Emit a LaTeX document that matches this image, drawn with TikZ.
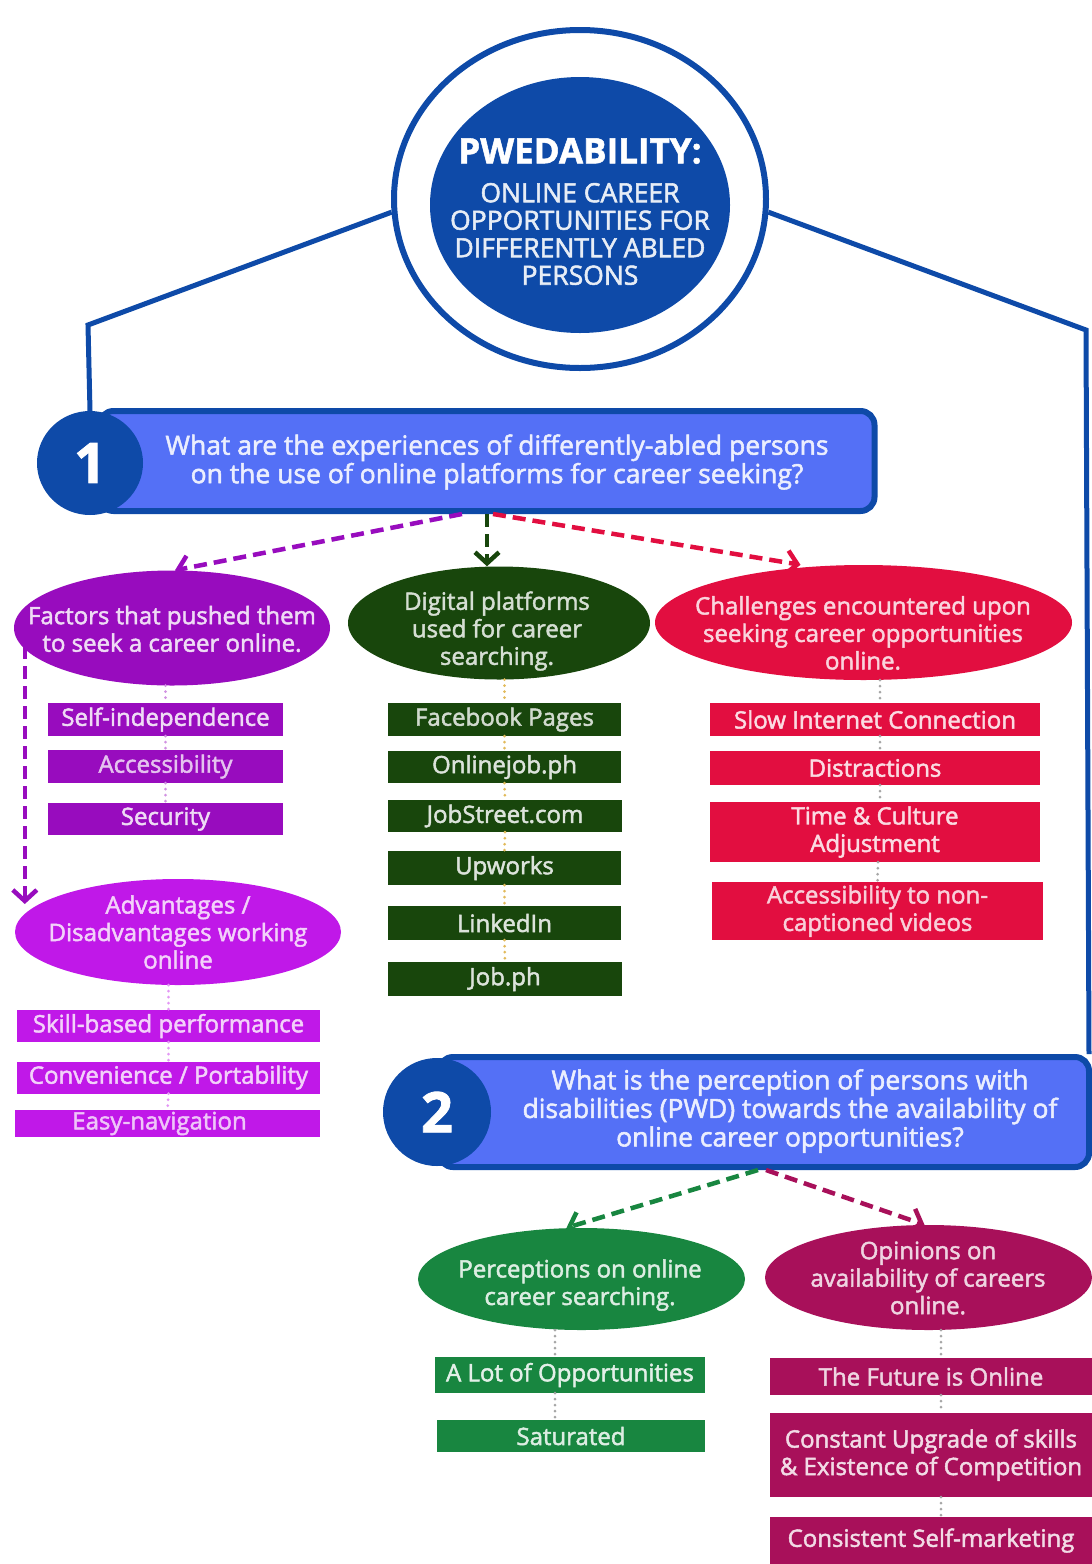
\documentclass[tikz,border=0pt]{standalone}
\usepackage{fontspec}
\setmainfont{Open Sans}[FakeBold=2]
\newfontfamily\titlefont{Open Sans Bold}[FakeBold=1.5]
\usetikzlibrary{shapes.geometric,arrows.meta,calc}
\definecolor{dblue}{RGB}{14,74,168}
\definecolor{mblue}{RGB}{84,112,246}
\definecolor{purp}{RGB}{152,12,190}
\definecolor{purpB}{RGB}{192,24,232}
\definecolor{dgreen}{RGB}{24,70,12}
\definecolor{redc}{RGB}{226,14,64}
\definecolor{mgreen}{RGB}{24,134,64}
\definecolor{mag}{RGB}{168,16,90}
\definecolor{goldot}{RGB}{226,186,90}
\begin{document}
\begin{tikzpicture}[x=1pt,y=-1pt,
  oval/.style={ellipse, inner sep=0pt},
  otext/.style={align=center, inner sep=0pt, font=\fontsize{24}{27.5}\selectfont},
  tag/.style={rectangle, inner sep=0pt, align=center, font=\fontsize{24}{27.5}\selectfont},
  banner/.style={rectangle, rounded corners=14pt, draw=dblue, line width=6pt, fill=mblue},
  badge/.style={ellipse, fill=dblue, text=white, font=\titlefont\fontsize{56}{56}\selectfont, inner sep=0pt},
  qtext/.style={align=center, text=white!88!mblue, font=\fontsize{26.5}{28.5}\selectfont, inner sep=0pt},
  frame/.style={dblue, line width=5pt},
  darrow/.style={line width=4.5pt, dash pattern=on 13pt off 7pt, -{Straight Barb[length=11pt,width=24pt]}},
  dotline/.style={line width=3pt, line cap=round, dash pattern=on 0pt off 6pt},
]
\useasboundingbox[fill=white] (0,0) rectangle (1092,1564);

% ---------- frame lines ----------
\coordinate (kL) at (88,325);
\coordinate (kR) at (1086,330);

% ---------- title circle ----------
\node[ellipse, draw=dblue, line width=6pt, fill=white, minimum width=372pt, minimum height=338pt, inner sep=0pt] (ring) at (580,199) {};
\node[ellipse, fill=dblue, minimum width=300pt, minimum height=256pt, inner sep=0pt] (core) at (580,205) {};
\node[text=white, font=\titlefont\fontsize{35}{36}\selectfont, inner sep=0pt] (ttl) at (580,151) {PWEDABILITY:};
\node[text=white!90!dblue, align=center, font=\fontsize{26.5}{27.5}\selectfont, inner sep=0pt] (sub) at (580,234) {ONLINE CAREER\\OPPORTUNITIES FOR\\DIFFERENTLY ABLED\\PERSONS};

% ---------- question 1 ----------
\node[banner, minimum width=775pt, minimum height=100pt] (b1) at (487,461) {};
\node[badge, minimum width=106pt, minimum height=104pt] (n1) at (90,463) {1};
\node[qtext] (q1) at (497,462) {What are the experiences of differently-abled persons\\on the use of online platforms for career seeking?};

% ---------- question 2 ----------
\node[banner, minimum width=650pt, minimum height=110pt] (b2) at (764,1112) {};
\node[badge, minimum width=108pt, minimum height=108pt] (n2) at (437,1112) {2};
\node[qtext] (q2) at (790,1111) {What is the perception of persons with\\disabilities (PWD) towards the availability of\\online career opportunities?};

\draw[frame] (ring.184) -- (kL) -- (n1.north);
\draw[frame] (ring.-4) -- (kR) -- ([xshift=-3pt]b2.north east);

% ---------- column 1: factors ----------
\node[oval, fill=purp, minimum width=316pt, minimum height=115pt] (e1) at (172,628) {};
\node[otext, text=white!85!purp] (t1) at (172,629) {Factors that pushed them\\to seek a career online.};
\node[tag, fill=purp, text=white!85!purp, minimum width=235pt, minimum height=33pt] (f1) at (165.5,719.5) {Self-independence};
\node[tag, fill=purp, text=white!75!purp, minimum width=235pt, minimum height=33pt] (f2) at (165.5,766.5) {Accessibility};
\node[tag, fill=purp, text=white!85!purp, minimum width=235pt, minimum height=32pt] (f3) at (165.5,819) {Security};

% ---------- column 1b: advantages ----------
\node[oval, fill=purpB, minimum width=326pt, minimum height=106pt] (e4) at (178,932) {};
\node[otext, text=white!80!purpB] (t4) at (178,932) {Advantages /\\Disadvantages working\\online};
\node[tag, fill=purpB, text=white!80!purpB, minimum width=303pt, minimum height=32pt] (a1) at (168.5,1026) {Skill-based performance};
\node[tag, fill=purpB, text=white!80!purpB, minimum width=303pt, minimum height=32pt] (a2) at (168.5,1077.5) {Convenience / Portability};
\node[tag, fill=purpB, text=white!75!purpB, minimum width=305pt, minimum height=27pt] (a3) at (167.5,1123.5) {Easy-navigation\hspace*{16pt}};

% ---------- column 2: platforms ----------
\node[oval, fill=dgreen, minimum width=302pt, minimum height=113pt] (e2) at (499,623) {};
\node[otext, text=white!82!dgreen] (t2) at (497,631) {Digital platforms\\used for career\\searching.};
\node[tag, fill=dgreen, text=white!80!dgreen, minimum width=233pt, minimum height=33pt] (g1) at (504.5,719.5) {Facebook Pages};
\node[tag, fill=dgreen, text=white!85!dgreen, minimum width=233pt, minimum height=32pt] (g2) at (504.5,767) {Onlinejob.ph};
\node[tag, fill=dgreen, text=white!85!dgreen, minimum width=234pt, minimum height=32pt] (g3) at (505,816) {JobStreet.com};
\node[tag, fill=dgreen, text=white!85!dgreen, minimum width=233pt, minimum height=34pt] (g4) at (504.5,868) {Upworks};
\node[tag, fill=dgreen, text=white!85!dgreen, minimum width=233pt, minimum height=34pt] (g5) at (504.5,923) {LinkedIn};
\node[tag, fill=dgreen, text=white!85!dgreen, minimum width=234pt, minimum height=34pt] (g6) at (505,979) {Job.ph};

% ---------- column 3: challenges ----------
\node[oval, fill=redc, minimum width=417pt, minimum height=115pt] (e3) at (863.5,622.5) {};
\node[otext, text=white!82!redc] (t3) at (863,633) {Challenges encountered upon\\seeking career opportunities\\online.};
\node[tag, fill=redc, text=white!85!redc, minimum width=330pt, minimum height=33pt] (r1) at (875,719.5) {Slow Internet Connection};
\node[tag, fill=redc, text=white!85!redc, minimum width=330pt, minimum height=34pt] (r2) at (875,768) {Distractions};
\node[tag, fill=redc, text=white!85!redc, minimum width=330pt, minimum height=60pt] (r3) at (875,832) {Time \& Culture\\Adjustment};
\node[tag, fill=redc, text=white!80!redc, minimum width=331pt, minimum height=58pt] (r4) at (877.5,911) {Accessibility to non-\\captioned videos};

% ---------- bottom: perceptions ----------
\node[oval, fill=mgreen, minimum width=327pt, minimum height=102pt] (e5) at (581.5,1279) {};
\node[otext, text=white!85!mgreen] (t5) at (580,1285) {Perceptions on online\\career searching.};
\node[tag, fill=mgreen, text=white!88!mgreen, minimum width=270pt, minimum height=36pt] (p1) at (570,1375) {A Lot of Opportunities};
\node[tag, fill=mgreen, text=white!85!mgreen, minimum width=268pt, minimum height=32pt] (p2) at (571,1436) {Saturated};

% ---------- bottom: opinions ----------
\node[oval, fill=mag, minimum width=327pt, minimum height=105pt] (e6) at (928.5,1277.5) {};
\node[otext, text=white!82!mag] (t6) at (928,1278) {Opinions on\\availability of careers\\online.};
\node[tag, fill=mag, text=white!82!mag, minimum width=322pt, minimum height=37pt] (o1) at (931,1376.5) {The Future is Online};
\node[tag, fill=mag, text=white!85!mag, minimum width=322pt, minimum height=84pt] (o2) at (931,1455) {Constant Upgrade of skills\\\& Existence of Competition};
\node[tag, fill=mag, text=white!85!mag, minimum width=322pt, minimum height=47pt] (o3) at (931,1540.5) {Consistent Self-marketing};

% ---------- dotted connectors ----------
\draw[dotline, purp!45] (f1.north |- e1.south) -- (f1.north);
\draw[dotline, purp!45] (f1.south) -- (f2.north);
\draw[dotline, purp!45] (f2.south) -- (f3.north);
\draw[dotline, purpB!45] (a1.north |- e4.south) -- (a1.north);
\draw[dotline, purpB!45] (a1.south) -- (a2.north);
\draw[dotline, purpB!45] (a2.south) -- (a3.north);
\draw[dotline, goldot] (g1.north |- e2.south) -- (g1.north);
\draw[dotline, goldot] (g1.south) -- (g2.north);
\draw[dotline, goldot] (g2.south) -- (g3.north);
\draw[dotline, goldot] (g3.south) -- (g4.north);
\draw[dotline, goldot] (g4.south) -- (g5.north);
\draw[dotline, goldot] (g5.south) -- (g6.north);
\draw[dotline, gray!70] ([xshift=5pt]r1.north |- e3.south) -- ([xshift=5pt]r1.north);
\draw[dotline, gray!70] ([xshift=5pt]r1.south) -- ([xshift=5pt]r2.north);
\draw[dotline, gray!70] ([xshift=5pt]r2.south) -- ([xshift=5pt]r3.north);
\draw[dotline, gray!70] ([xshift=3pt]r3.south) -- ([xshift=0pt]r4.north);
\draw[dotline, gray!70] ([xshift=-15pt]p1.north |- e5.south) -- ([xshift=-15pt]p1.north);
\draw[dotline, gray!70] ([xshift=-15pt]p1.south) -- ([xshift=-16pt]p2.north);
\draw[dotline, gray!70] ([xshift=10pt]o1.north |- e6.south) -- ([xshift=10pt]o1.north);
\draw[dotline, gray!70] ([xshift=10pt]o1.south) -- ([xshift=10pt]o2.north);
\draw[dotline, gray!70] ([xshift=10pt]o2.south) -- ([xshift=10pt]o3.north);

% ---------- dashed arrows ----------
\draw[darrow, purp] ([xshift=-25pt]b1.south) -- ([xshift=3pt]e1.north);
\draw[darrow, dgreen] ([xshift=0pt]b1.south) -- ([xshift=-12pt]e2.north);
\draw[darrow, redc] ([xshift=6pt]b1.south) -- ([xshift=-63pt]e3.north);
\draw[darrow, purp] ([shift={(11,18)}]e1.west) -- ([shift={(10,-28)}]e4.west);
\draw[darrow, mgreen] ([xshift=-6pt]b2.south) -- ([xshift=-15pt]e5.north);
\draw[darrow, mag] ([xshift=2pt]b2.south) -- ([xshift=-4pt]e6.north);
\end{tikzpicture}
\end{document}
